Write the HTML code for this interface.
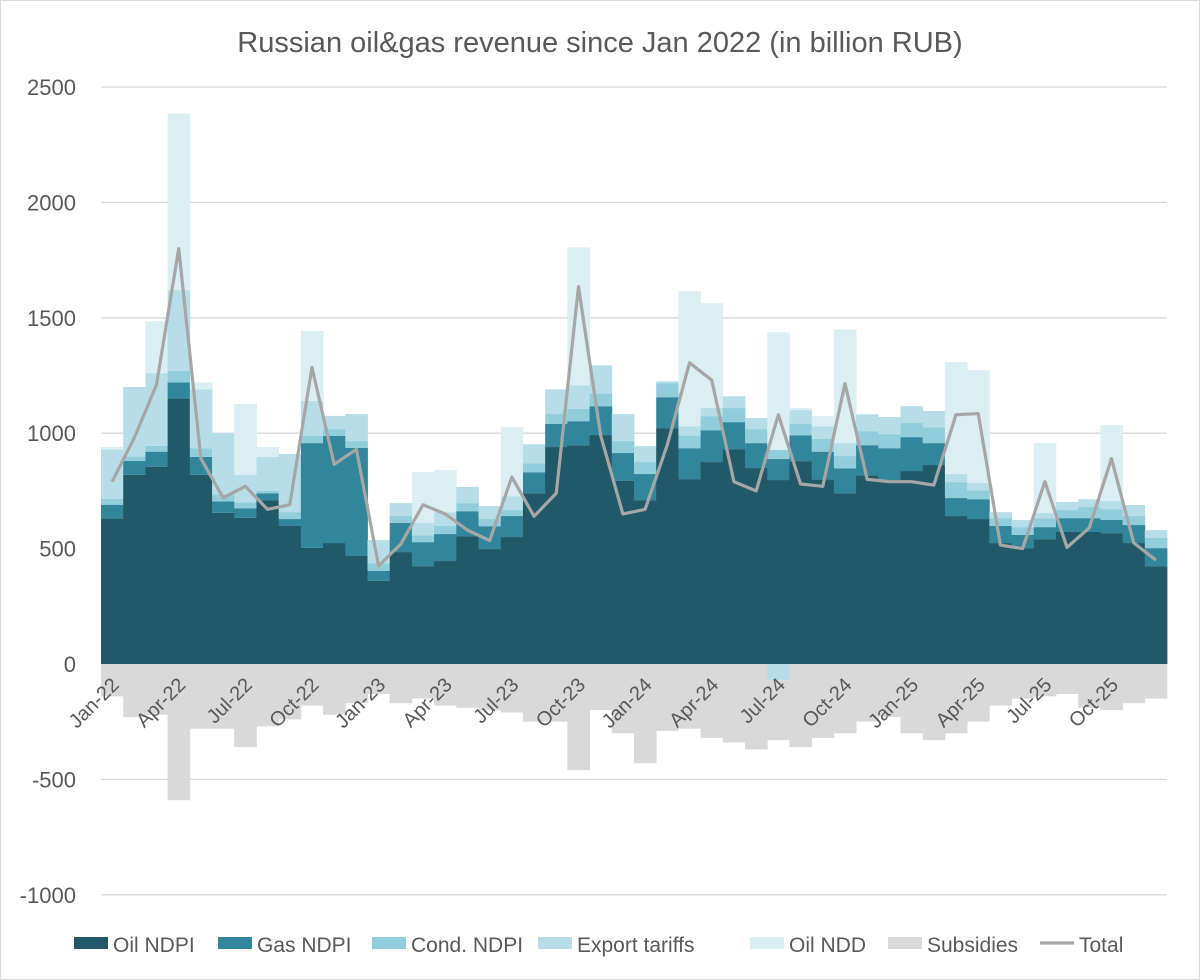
<!DOCTYPE html>
<html><head><meta charset="utf-8"><style>
body{margin:0;background:#fff;}
svg{display:block;font-family:"Liberation Sans",sans-serif;}
</style></head><body>
<svg id="chart" width="1200" height="980" viewBox="0 0 1200 980">
<rect x="0.5" y="0.5" width="1199" height="979" fill="#fff" stroke="#d9d9d9"/>
<text x="600" y="52" text-anchor="middle" font-size="29" fill="#595959">Russian oil&amp;gas revenue since Jan 2022 (in billion RUB)</text>
<g id="grid"></g><g id="bars"></g><g id="line"></g><g id="ylabels"></g><g id="xlabels"></g><g id="legend"></g>
</svg>
<script>
const months=["Jan-22","Feb-22","Mar-22","Apr-22","May-22","Jun-22","Jul-22","Aug-22","Sep-22","Oct-22","Nov-22","Dec-22","Jan-23","Feb-23","Mar-23","Apr-23","May-23","Jun-23","Jul-23","Aug-23","Sep-23","Oct-23","Nov-23","Dec-23","Jan-24","Feb-24","Mar-24","Apr-24","May-24","Jun-24","Jul-24","Aug-24","Sep-24","Oct-24","Nov-24","Dec-24","Jan-25","Feb-25","Mar-25","Apr-25","May-25","Jun-25","Jul-25","Aug-25","Sep-25","Oct-25","Nov-25","Dec-25"];
const oilNdpi=[630,820,855,1150,820,655,633,710,598,503,524,468,360,485,424,446,554,498,550,740,940,948,992,793,710,1022,801,875,931,849,797,879,800,740,818,797,836,862,641,628,524,502,541,572,572,567,524,424];
const gasNdpi=[60,60,65,70,77,50,42,30,30,454,464,468,43,126,104,117,108,99,91,91,100,104,125,121,113,134,134,138,117,108,91,112,120,108,130,138,147,95,78,86,74,57,52,60,60,57,78,78];
const condNdpi=[25,20,25,50,38,30,25,10,30,31,30,30,34,30,30,35,35,31,26,39,43,53,56,52,52,61,56,61,61,61,39,49,55,53,61,61,61,69,69,39,34,34,39,35,48,47,39,44];
const exportTariffs=[215,300,315,350,255,265,120,147,252,152,57,117,100,56,53,60,70,56,60,82,107,103,121,117,69,8,39,35,51,48,-70,60,55,56,73,74,73,70,35,31,26,31,22,35,34,35,48,34];
const oilNdd=[10,0,225,765,30,0,307,43,0,303,0,0,0,0,221,182,0,0,299,0,0,597,0,0,0,0,585,454,0,0,510,9,44,493,0,0,0,0,485,489,0,0,303,0,0,329,0,0];
const subsidies=[-140,-230,-220,-590,-280,-280,-360,-270,-240,-180,-220,-170,-130,-170,-150,-180,-190,-200,-210,-250,-250,-460,-200,-300,-430,-290,-280,-320,-340,-370,-260,-360,-320,-300,-250,-230,-300,-330,-300,-250,-180,-150,-140,-130,-190,-200,-170,-150];
const total=[790,980,1210,1800,890,720,770,670,690,1285,865,930,425,520,690,650,580,535,810,640,740,1635,990,650,670,950,1305,1230,790,750,1080,780,770,1215,800,790,790,775,1080,1085,515,500,790,505,590,890,525,450];
const yTicks=[-1000,-500,0,500,1000,1500,2000,2500];
const seriesNames=["Oil NDPI","Gas NDPI","Cond. NDPI","Export tariffs","Oil NDD","Subsidies"];
const colors=["#215968","#31869B","#92CDDC","#B7DEE8","#DAEEF3","#D9D9D9"];
const NS="http://www.w3.org/2000/svg";
const X0=101,X1=1167,bw=(X1-X0)/months.length;
const y=v=>664-v*0.2308;
const xc=i=>X0+bw*(i+0.5);
function mk(tag,attrs,parent){const e=document.createElementNS(NS,tag);for(const k in attrs)e.setAttribute(k,attrs[k]);parent.appendChild(e);return e;}
const grid=document.getElementById('grid'),ylab=document.getElementById('ylabels');
yTicks.forEach(t=>{
  const l=mk('line',{x1:X0,x2:X1,y1:y(t),y2:y(t),stroke:'#d9d9d9','stroke-width':1.3},grid);
  
  
  const tx=mk('text',{x:76,y:y(t)+8,'text-anchor':'end','font-size':22,fill:'#595959'},ylab);
  tx.textContent=t;
  
  
});
const bars=document.getElementById('bars');
const series=[oilNdpi,gasNdpi,condNdpi,exportTariffs,oilNdd];
const keys=["oil-ndpi","gas-ndpi","cond-ndpi","export-tariffs","oil-ndd"];
months.forEach((m,i)=>{
  let pos=0,neg=0;
  series.forEach((s,k)=>{
    const v=s[i]; if(!v)return;
    let a,b;
    if(v>=0){a=pos;b=pos+v;pos=b;}else{a=neg;b=neg+v;neg=b;}
    const r=mk('rect',{x:X0+bw*i,width:bw+0.4,y:Math.min(y(a),y(b)),height:Math.abs(y(a)-y(b)),fill:colors[k]},bars);
    
    
  });
  const sv=subsidies[i];
  const r=mk('rect',{x:X0+bw*i,width:bw+0.4,y:y(neg),height:y(neg+sv)-y(neg),fill:colors[5]},bars);
  
  
});
const pl=mk('polyline',{points:total.map((v,i)=>xc(i)+','+y(v)).join(' '),fill:'none',stroke:'#A6A6A6','stroke-width':3.2,'stroke-linejoin':'round'},document.getElementById('line'));


const xl=document.getElementById('xlabels');
months.forEach((m,i)=>{
  if(i%3)return;
  const px=xc(i)+8,py=686;
  const t=mk('text',{x:px,y:py,'text-anchor':'end','font-size':20,fill:'#595959',transform:`rotate(-45 ${px} ${py})`},xl);
  t.textContent=m;
  
  
});
const lg=document.getElementById('legend');
const lx=[74,218,372,538,750,888];
seriesNames.forEach((n,k)=>{
  const g=mk('g',{},lg);
  
  
  mk('rect',{x:lx[k],y:937,width:34,height:12,fill:colors[k]},g);
  const t=mk('text',{x:lx[k]+39,y:952,'font-size':21,fill:'#595959'},g);t.textContent=n;
});
const g=mk('g',{},lg);


mk('line',{x1:1040,x2:1074,y1:943,y2:943,stroke:'#A6A6A6','stroke-width':3.2},g);
const t=mk('text',{x:1079,y:952,'font-size':21,fill:'#595959'},g);t.textContent="Total";
</script>
</body></html>
